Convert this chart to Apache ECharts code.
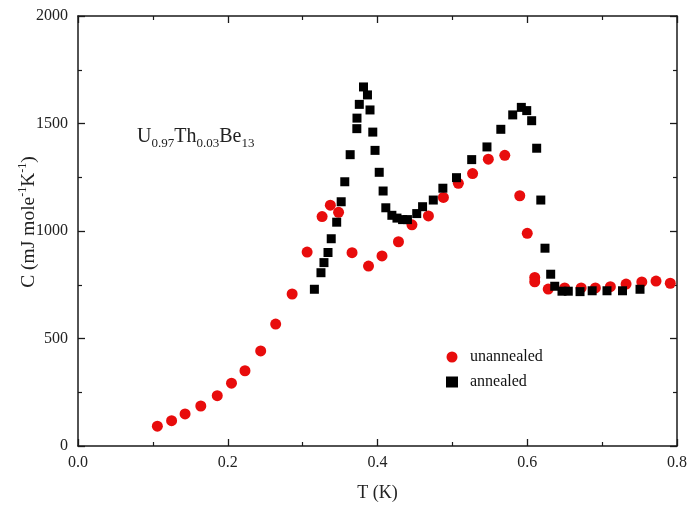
<!DOCTYPE html>
<html>
<head>
<meta charset="utf-8">
<script src="https://cdn.jsdelivr.net/npm/echarts@6/dist/echarts.min.js"></script>
<style>html,body{margin:0;padding:0;background:#fff}#c{width:689px;height:508px}</style>
</head>
<body>
<div id="c"></div>
<script>
// Unannealed (red circles): T (K), C (mJ/mole/K)
var unannealedT = [0.106,0.125,0.143,0.164,0.186,0.205,0.223,0.244,0.264,0.286,0.306,0.326,0.337,0.348,0.366,0.388,0.406,0.428,0.446,0.468,0.488,0.508,0.527,0.548,0.570,0.590,0.600,0.610,0.610,0.628,0.650,0.672,0.691,0.711,0.732,0.753,0.772,0.791];
var unannealedC = [92,118,149,186,234,292,350,442,567,707,902,1067,1120,1087,899,837,884,950,1029,1070,1156,1222,1267,1334,1352,1164,989,784,764,730,735,735,735,741,753,763,767,757];
// Annealed (black squares)
var annealedT = [0.3157,0.3245,0.3285,0.3339,0.3382,0.3455,0.3515,0.3563,0.3635,0.3724,0.3726,0.3757,0.3813,0.3866,0.390,0.3937,0.3967,0.4023,0.4075,0.4111,0.4192,0.426,0.4335,0.440,0.4524,0.4602,0.4745,0.4873,0.5055,0.5258,0.5462,0.5647,0.5806,0.5921,0.5993,0.6059,0.6126,0.6181,0.6237,0.6313,0.6367,0.6464,0.6548,0.6705,0.6867,0.7065,0.7272,0.7506];
var annealedC = [729,806,853,900,964,1041,1136,1229,1355,1476,1525,1589,1670,1633,1563,1460,1375,1273,1186,1108,1073,1060,1053,1053,1081,1113,1144,1199,1248,1332,1391,1473,1540,1575,1560,1513,1385,1144,920,799,743,720,720,718,722,722,722,729];
var xTicks = [0.0,0.2,0.4,0.6,0.8];
var yTicks = [0,500,1000,1500,2000];

function pairs(a,b){return a.map(function(v,i){return [v,b[i]];});}
var FONT = '"Liberation Serif","Times New Roman",serif';
var axisCol = '#1a1a1a';

var chart = echarts.init(document.getElementById('c'));
var baseX = {
  type:'value', min:xTicks[0], max:xTicks[xTicks.length-1], interval:0.2,
  axisLine:{show:true,onZero:false,lineStyle:{color:axisCol,width:1.5}},
  axisTick:{show:true,inside:true,length:7,lineStyle:{color:axisCol,width:1.3}},
  minorTick:{show:true,splitNumber:2,length:4,lineStyle:{color:axisCol,width:1.2}},
  splitLine:{show:false}
};
var baseY = {
  type:'value', min:yTicks[0], max:yTicks[yTicks.length-1], interval:500,
  axisLine:{show:true,onZero:false,lineStyle:{color:axisCol,width:1.5}},
  axisTick:{show:true,inside:true,length:7,lineStyle:{color:axisCol,width:1.3}},
  minorTick:{show:true,splitNumber:2,length:4,lineStyle:{color:axisCol,width:1.2}},
  splitLine:{show:false}
};
chart.setOption({
  animation:false,
  backgroundColor:'#fff',
  grid:{left:78,right:12,top:16,bottom:62,containLabel:false,outerBoundsMode:'none'},
  xAxis:[
    Object.assign({}, baseX, {position:'bottom',
      axisLabel:{show:true,margin:9,color:'#222',fontFamily:FONT,fontSize:16,formatter:function(v){return v.toFixed(1);}},
      name:'T (K)', nameLocation:'middle', nameGap:38, nameMoveOverlap:false,
      nameTextStyle:{color:'#222',fontFamily:FONT,fontSize:18}}),
    Object.assign({}, baseX, {position:'top', axisLabel:{show:false}})
  ],
  yAxis:[
    Object.assign({}, baseY, {position:'left',
      axisLabel:{show:true,margin:10,color:'#222',fontFamily:FONT,fontSize:16,formatter:function(v){return String(v);}}}),
    Object.assign({}, baseY, {position:'right', axisLabel:{show:false}})
  ],
  legend:{
    orient:'vertical', left:446, top:349, padding:0, itemGap:9, itemWidth:12, itemHeight:11,
    textStyle:{fontFamily:FONT,fontSize:16,color:'#111',padding:[0,0,0,7]},
    data:[{name:'unannealed',icon:'circle'},{name:'annealed',icon:'rect'}]
  },
  graphic:[{
    type:'text', left:137, top:124,
    style:{
      text:'{b|U}{s|0.97}{b|Th}{s|0.03}{b|Be}{s|13}',
      rich:{b:{fontFamily:FONT,fontSize:20,fill:'#222',lineHeight:24,verticalAlign:'middle'},
            s:{fontFamily:FONT,fontSize:13,fill:'#222',lineHeight:13,padding:[13,0,0,0],verticalAlign:'middle'}}
    }
  },{
    type:'text', x:29, y:222, rotation:Math.PI/2,
    style:{
      text:'{b|C (mJ mole}{s|-1}{b|K}{s|-1}{b|)}', align:'center', verticalAlign:'middle',
      rich:{b:{fontFamily:FONT,fontSize:19.5,fill:'#222',lineHeight:24,verticalAlign:'middle'},
            s:{fontFamily:FONT,fontSize:12,fill:'#222',lineHeight:12,padding:[0,0,12,0],verticalAlign:'middle'}}
    }
  }],
  series:[
    {name:'unannealed', type:'scatter', xAxisIndex:0, yAxisIndex:0, symbol:'circle', symbolSize:11,
     itemStyle:{color:'#e80c0c',opacity:1}, data:pairs(unannealedT,unannealedC), z:3},
    {name:'annealed', type:'scatter', xAxisIndex:0, yAxisIndex:0, symbol:'rect', symbolSize:9,
     itemStyle:{color:'#000',opacity:1}, data:pairs(annealedT,annealedC), z:4}
  ]
});
</script>
</body>
</html>
